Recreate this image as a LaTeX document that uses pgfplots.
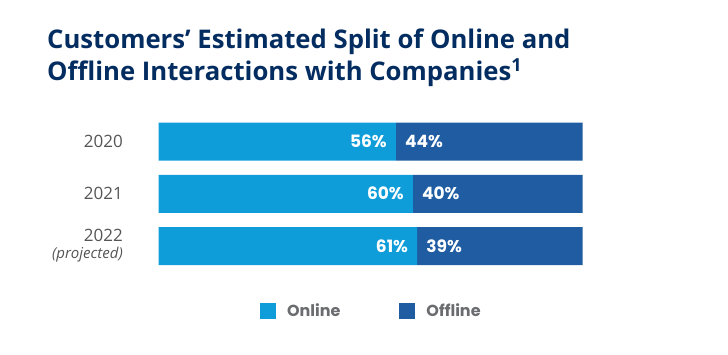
\documentclass[border=0pt]{standalone}
\usepackage{fontspec}
\usepackage{pgfplots}
\pgfplotsset{compat=1.18}
\usepackage{pgfplotstable}
\setmainfont{Open Sans}
\newfontfamily\titlefont{Open Sans}
\newfontfamily\labfont{Poppins}
\definecolor{online}{HTML}{0E9DD9}
\definecolor{offline}{HTML}{1F5CA2}
\definecolor{navy}{HTML}{032D60}
\definecolor{yeargray}{HTML}{555555}
\definecolor{leggray}{HTML}{6B6C70}
\pgfplotsset{mysq/.style={legend image code/.code={\fill[##1] (0pt,-8pt) rectangle (16pt,8pt);}},
  geom/.style={at={(158.5pt,-265pt)}, anchor=south west,
  scale only axis, width=424pt, height=142.5pt,
  xmin=0, xmax=100, ymin=-0.3636, ymax=2.3636, y dir=reverse}}

\pgfplotstableread{
idx online offline
0 56 44
1 60 40
2 61 39
}\datatable

\begin{document}
\begin{tikzpicture}
\useasboundingbox (0pt,0pt) rectangle (728pt,-355pt);
\node[anchor=base west, inner sep=0pt, font=\titlefont\bfseries\fontsize{25.7}{32}\selectfont, text=navy] at (47pt,-49pt) {Customers’ Estimated Split of Online and};
\node[anchor=base west, inner sep=0pt, font=\titlefont\bfseries\fontsize{25.7}{32}\selectfont, text=navy] at (47pt,-81pt) {Offline Interactions with Companies\textsuperscript{1}};
\begin{axis}[geom,
  xbar stacked, bar width=38pt,
  axis line style={draw=none}, xtick=\empty, ytick={0,1,2}, major tick length=0pt,
  tick style={draw=none},
  yticklabels={2020,2021,{2022\\{\itshape\fontsize{15}{16}\selectfont(projected)}}},
  yticklabel style={align=right, font=\fontsize{17}{17}\selectfont, text=yeargray, inner sep=0pt, xshift=-35.5pt},
  legend style={at={(0.2394,-0.323)}, anchor=west, draw=none, fill=none, inner sep=0pt, outer sep=0pt,
    legend columns=2, font=\labfont\bfseries\fontsize{16}{16}\selectfont, text=leggray,
    nodes={inner sep=0pt},
    /tikz/every odd column/.append style={column sep=11pt},
    /tikz/every even column/.append style={column sep=59pt}},
  legend cell align=left,
]
\addplot[fill=online, draw=none, mysq] table[x=online, y=idx] {\datatable};
\addplot[fill=offline, draw=none, mysq] table[x=offline, y=idx] {\datatable};
\legend{Online,Offline}
\end{axis}
\begin{axis}[geom, hide axis]
\addplot[draw=none, mark=none, point meta=explicit symbolic,
  nodes near coords={\pgfplotspointmeta\%},
  nodes near coords style={anchor=east, inner sep=0pt, xshift=-9pt, text=white, font=\labfont\bfseries\fontsize{17}{17}\selectfont}]
  table[x=online, y=idx, meta=online] {\datatable};
\addplot[draw=none, mark=none, point meta=explicit symbolic,
  nodes near coords={\pgfplotspointmeta\%},
  nodes near coords style={anchor=west, inner sep=0pt, xshift=9pt, text=white, font=\labfont\bfseries\fontsize{17}{17}\selectfont}]
  table[x=online, y=idx, meta=offline] {\datatable};
\end{axis}
\end{tikzpicture}
\end{document}
